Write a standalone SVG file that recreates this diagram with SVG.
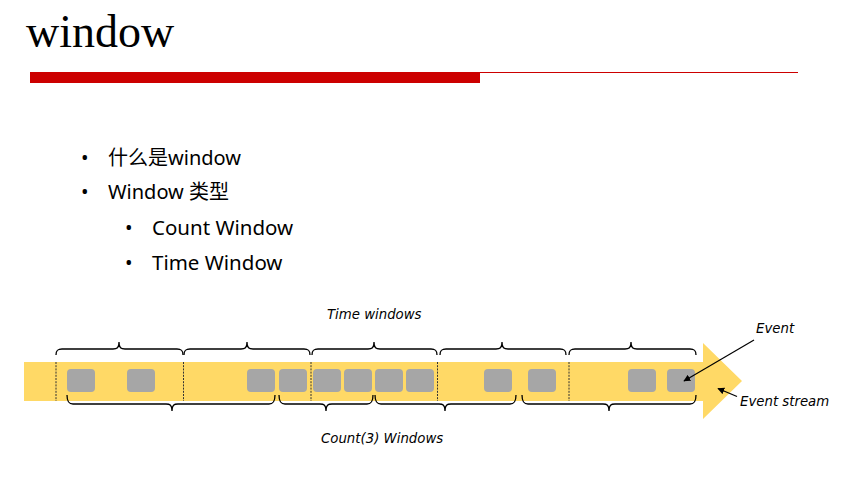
<svg xmlns="http://www.w3.org/2000/svg" width="845" height="489" viewBox="0 0 845 489">
<defs>
<style>
.title{font-family:"Liberation Serif","Times New Roman",serif;font-size:46px;fill:#000}
.bul{font-family:"Noto Sans","Noto Sans CJK SC",sans-serif;font-size:20px;fill:#000}
.wide{font-size:20.5px}
.lbl{font-family:"DejaVu Sans",Verdana,sans-serif;font-size:13.3px;font-style:italic;fill:#000}
.ev{fill:#a6a6a6}
.brace{fill:none;stroke:#000;stroke-width:1.3}
.dash{stroke:#333;stroke-width:1;stroke-dasharray:2 1.2}
.ptr{stroke:#000;stroke-width:1.2;fill:none;marker-end:url(#ah)}
</style>
<marker id="ah" viewBox="0 0 10 10" refX="9" refY="5" markerWidth="7" markerHeight="7" orient="auto" markerUnits="userSpaceOnUse">
<path d="M0,0 L10,5 L0,10 z" fill="#000"/>
</marker>
</defs>
<rect width="845" height="489" fill="#fff"/>
<g id="header">
<text class="title" x="26" y="47">window</text>
<rect x="30" y="72" width="450" height="11" fill="#cc0000"/>
<line x1="480" y1="72.5" x2="798" y2="72.5" stroke="#cc0000" stroke-width="1"/>
</g>
<g id="bullets">
<text class="bul" x="81" y="165">•</text>
<text class="bul" x="108" y="165">什么是window</text>
<text class="bul" x="81" y="199">•</text>
<text class="bul" x="108" y="199">Window 类型</text>
<text class="bul" x="125" y="235">•</text>
<text class="bul wide" x="152" y="235">Count Window</text>
<text class="bul" x="125" y="270">•</text>
<text class="bul wide" x="152" y="270">Time Window</text>
</g>
<g id="stream">
<polygon points="24,362 703,362 703,343 742,381 703,419 703,401 24,401" fill="#ffd966"/>
</g>
<g id="separators">
<line class="dash" x1="56" y1="362" x2="56" y2="401"/>
<line class="dash" x1="183.5" y1="362" x2="183.5" y2="401"/>
<line class="dash" x1="311" y1="362" x2="311" y2="401"/>
<line class="dash" x1="437.5" y1="362" x2="437.5" y2="401"/>
<line class="dash" x1="569" y1="362" x2="569" y2="401"/>
</g>
<g id="events">
<rect class="ev" x="67" y="369" width="28" height="23" rx="4"/>
<rect class="ev" x="127" y="369" width="28" height="23" rx="4"/>
<rect class="ev" x="247" y="369" width="28" height="23" rx="4"/>
<rect class="ev" x="279" y="369" width="28" height="23" rx="4"/>
<rect class="ev" x="313" y="369" width="28" height="23" rx="4"/>
<rect class="ev" x="344" y="369" width="28" height="23" rx="4"/>
<rect class="ev" x="375" y="369" width="28" height="23" rx="4"/>
<rect class="ev" x="406" y="369" width="28" height="23" rx="4"/>
<rect class="ev" x="484" y="369" width="28" height="23" rx="4"/>
<rect class="ev" x="528" y="369" width="28" height="23" rx="4"/>
<rect class="ev" x="628" y="369" width="28" height="23" rx="4"/>
<rect class="ev" x="667" y="369" width="28" height="23" rx="4"/>
</g>
<g id="time-windows">
<path class="brace" d="M56,355 C56,350 58,349 62,349 L113,349 C117,349 119,348 119,342 C119,348 121,349 125,349 L177,349 C181,349 183,350 183,355"/>
<path class="brace" d="M184,355 C184,350 186,349 190,349 L241,349 C245,349 247,348 247,342 C247,348 249,349 253,349 L304,349 C308,349 310,350 310,355"/>
<path class="brace" d="M312,355 C312,350 314,349 318,349 L368,349 C372,349 374,348 374,342 C374,348 376,349 380,349 L431,349 C435,349 437,350 437,355"/>
<path class="brace" d="M440,355 C440,350 442,349 446,349 L496,349 C500,349 502,348 502,342 C502,348 504,349 508,349 L560,349 C564,349 566,350 566,355"/>
<path class="brace" d="M569,355 C569,350 571,349 575,349 L625,349 C629,349 631,348 631,342 C631,348 633,349 637,349 L690,349 C694,349 696,350 696,355"/>
<text class="lbl" x="327" y="319">Time windows</text>
</g>
<g id="count-windows">
<path class="brace" d="M67,395 C67,402 69,404 73,404 L166,404 C170,404 172,405 172,411 C172,405 174,404 178,404 L269,404 C273,404 275,402 275,395"/>
<path class="brace" d="M279,395 C279,402 281,404 285,404 L320,404 C324,404 326,405 326,411 C326,405 328,404 332,404 L367,404 C371,404 373,402 373,395"/>
<path class="brace" d="M375,395 C375,402 377,404 381,404 L439,404 C443,404 445,405 445,411 C445,405 447,404 451,404 L510,404 C514,404 516,402 516,395"/>
<path class="brace" d="M522,395 C522,402 524,404 528,404 L603,404 C607,404 609,405 609,411 C609,405 611,404 615,404 L690,404 C694,404 696,402 696,395"/>
<text class="lbl" x="321" y="443">Count(3) Windows</text>
</g>
<g id="connectors">
<line class="ptr" x1="754" y1="340" x2="684" y2="381"/>
<line class="ptr" x1="737" y1="396.5" x2="718" y2="388.5"/>
</g>
<g id="annotations">
<text class="lbl" x="756" y="333">Event</text>
<text class="lbl" x="740" y="406">Event stream</text>
</g>
</svg>
